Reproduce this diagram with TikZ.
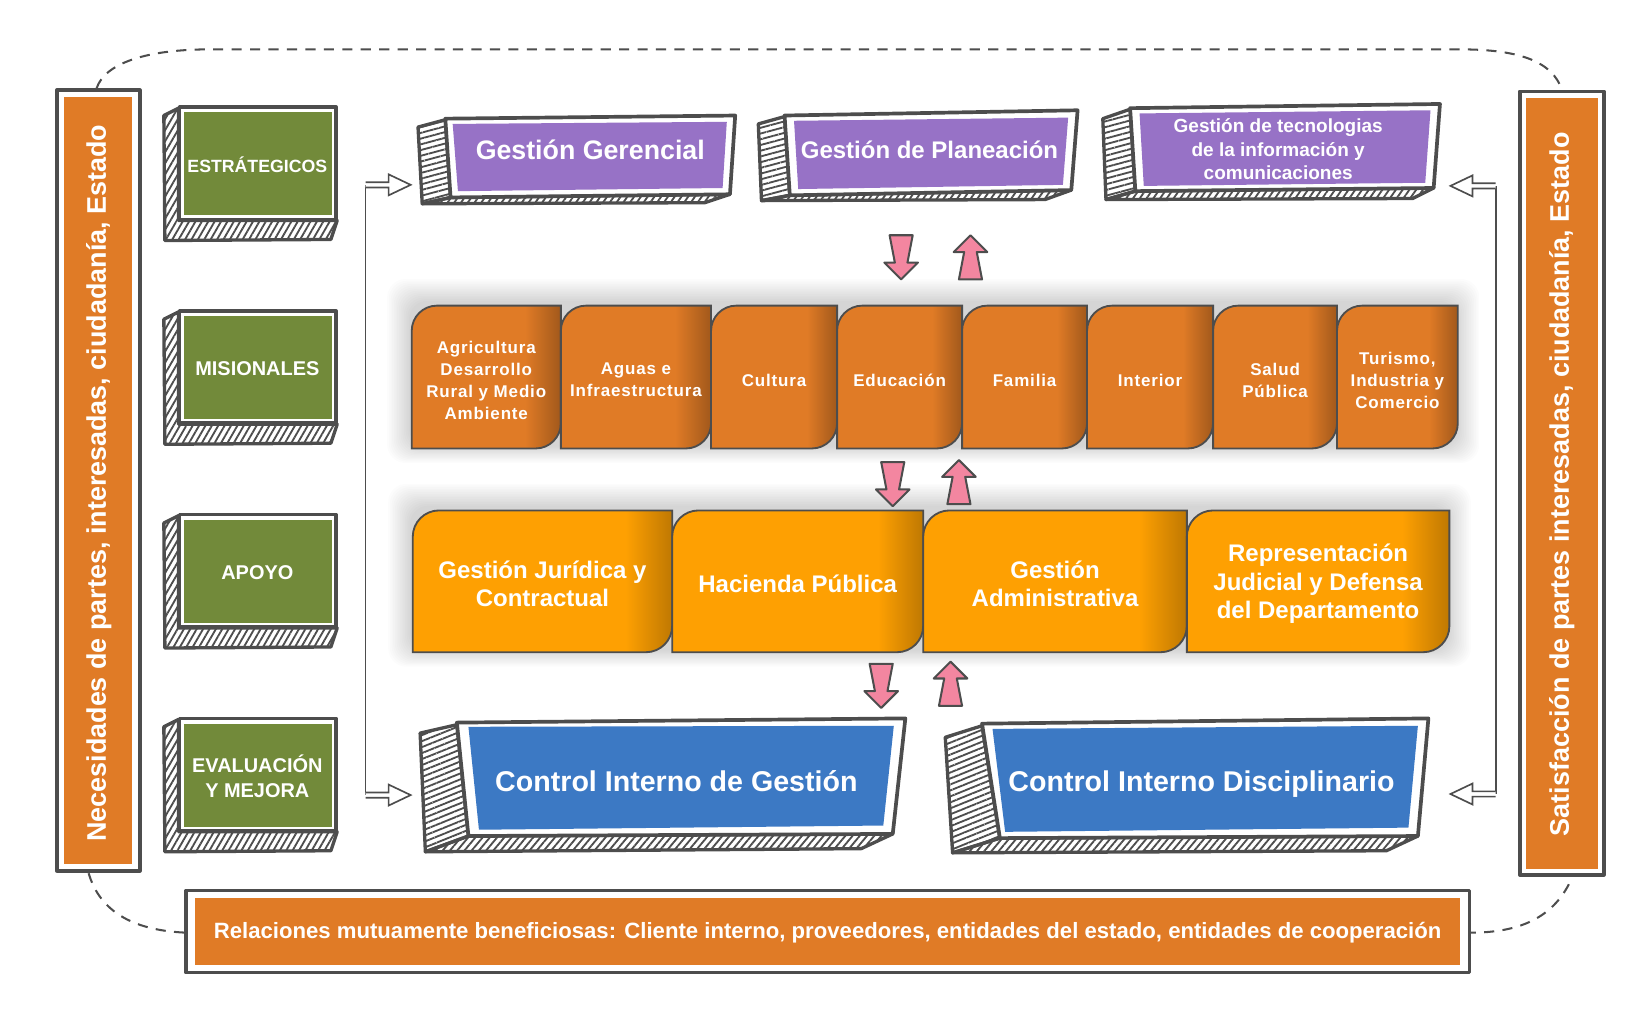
\documentclass[tikz,border=0pt]{standalone}
\usepackage{fontspec}
\setmainfont{Liberation Sans}
\newfontfamily\tabfont[LetterSpace=5]{Liberation Sans}
\usetikzlibrary{patterns.meta}

\definecolor{dk}{RGB}{77,77,77}
\definecolor{grn}{RGB}{114,138,58}
\definecolor{prp}{RGB}{151,114,198}
\definecolor{org}{RGB}{224,123,38}
\definecolor{amb}{RGB}{254,160,2}
\definecolor{blu}{RGB}{60,121,196}
\definecolor{pnk}{RGB}{243,134,160}
\colorlet{orgdk}{org!72!black}
\colorlet{ambdk}{amb!75!black}

\pgfdeclarehorizontalshading{orgtab}{100bp}{color(0bp)=(org); color(25bp)=(org); color(63bp)=(org); color(75bp)=(orgdk); color(100bp)=(orgdk)}
\pgfdeclarehorizontalshading{ambtab}{100bp}{color(0bp)=(amb); color(25bp)=(amb); color(66bp)=(amb); color(75bp)=(ambdk); color(100bp)=(ambdk)}

\tikzset{
  frame/.style={draw=dk, line width=2pt, line join=round, fill=white},
  hatchbox/.style={draw=dk, line width=1.8pt, line join=round,
    pattern={Lines[angle=#1,distance=3pt,line width=1pt]}, pattern color=dk},
  tab/.style={shade, shading=#1, draw=dk, line width=1pt},
  link/.style={draw=dk, line width=1pt},
  sidetxt/.style={text=white, font=\bfseries\fontsize{14.6}{17}\selectfont, rotate=90},
  grntxt/.style={text=white, align=center},
  prptxt/.style={text=white, align=center},
  tabtxt/.style={text=white, align=center, font=\tabfont\bfseries\fontsize{9.2}{11.9}\selectfont},
  ambtxt/.style={text=white, align=center, font=\bfseries\fontsize{13}{15.4}\selectfont},
  blutxt/.style={text=white, font=\bfseries\fontsize{15.5}{18}\selectfont},
  reltxt/.style={text=white, font=\bfseries\fontsize{12}{14}\selectfont},
  pics/pinkarrow/.style={code={
    \draw[draw=dk, fill=pnk, line width=1.1pt, line join=round]
      (-11,0) -- (11,0) -- (6,26) -- (16,26) -- (0,42) -- (-16,26) -- (-6,26) -- cycle;}},
  pics/fatarrow/.style={code={
    \draw[draw=dk, fill=white, line width=0.9pt]
      (0,-2.5) -- (22,-2.5) -- (22,-10) -- (43,0) -- (22,10) -- (22,2.5) -- (0,2.5);}}
}

\begin{document}
\begin{tikzpicture}[x=0.02cm, y=-0.02cm]
\useasboundingbox (0,0) rectangle (1571,976);

% dashed surround
\draw[dk, line width=1.1pt, dash pattern=on 5.5pt off 4.5pt]
  (92,84) .. controls (100,60) and (140,47) .. (200,47) -- (1390,47)
  .. controls (1450,47) and (1478,60) .. (1487,85) -- (1497,835)
  .. controls (1480,875) and (1445,888) .. (1400,888) -- (177,888)
  .. controls (130,886) and (95,870) .. (84,830) -- cycle;

% side bars and banner
\path[frame] (54,86) rectangle (133,829);
\fill[org] (61,92) rectangle (126,823);
\node[sidetxt] (nec) at (94,460) {Necesidades de partes, interesadas, ciudadanía, Estado};
\path[frame] (1447,87) rectangle (1527,833);
\fill[org] (1453,93) rectangle (1521,827);
\node[sidetxt] (sat) at (1487,461) {Satisfacción de partes interesadas, ciudadanía, Estado};
\path[frame] (177,848) rectangle (1399,926);
\fill[org] (186,855) rectangle (1390,919);
\node[reltxt] (rel) at (788,888) {Relaciones mutuamente beneficiosas: Cliente interno, proveedores, entidades del estado, entidades de cooperación};

% process types
\foreach \ty/\nm/\fsz/\txt in {101/est/9.6/ESTRÁTEGICOS, 295/mis/10.8/MISIONALES, 489/apo/10.8/APOYO, 683/eva/10.8/{EVALUACIÓN\\Y MEJORA}}
{
  \path[hatchbox=60] (170,\ty+2) -- (156,\ty+9) -- (157,\ty+128) -- (315,\ty+127) -- (321,\ty+109) -- (170,\ty+109) -- cycle;
  \path[frame] (171,\ty+1) rectangle (320,\ty+108);
  \fill[grn] (175,\ty+6) rectangle (316,\ty+104);
  \node[grntxt, font=\bfseries\fontsize{\fsz}{13.6}\selectfont] (\nm) at (245,\ty+56) {\txt};
}

% strategic
\path[hatchbox=15] (424,114) -- (398,121) -- (402,194) -- (429,188) -- cycle;
\path[hatchbox=55] (402,194) -- (671,193) -- (695,185) -- (429,188) -- cycle;
\path[frame] (424,113) -- (700,110) -- (695,185) -- (429,188) -- cycle;
\fill[prp] (431,118) -- (692,116) -- (688,179) -- (436,182) -- cycle;
\node[prptxt, font=\bfseries\fontsize{14.5}{17}\selectfont] (gg) at (562,143) {Gestión Gerencial};

\path[hatchbox=15] (747,111) -- (722,118) -- (725,191) -- (752,186) -- cycle;
\path[hatchbox=55] (725,191) -- (995,190) -- (1020,181) -- (752,186) -- cycle;
\path[frame] (747,110) -- (1026,105) -- (1020,181) -- (752,186) -- cycle;
\fill[prp] (756,115) -- (1017,112) -- (1012,176) -- (760,180) -- cycle;
\node[prptxt, font=\bfseries\fontsize{13}{16}\selectfont] (gp) at (885,143) {Gestión de Planeación};

\path[hatchbox=15] (1076,104) -- (1050,113) -- (1053,190) -- (1081,182) -- cycle;
\path[hatchbox=55] (1053,190) -- (1345,189) -- (1365,179) -- (1081,182) -- cycle;
\path[frame] (1076,103) -- (1371,99) -- (1365,179) -- (1081,182) -- cycle;
\fill[prp] (1085,108) -- (1362,105) -- (1357,174) -- (1089,177) -- cycle;
\node[prptxt, font=\bfseries\fontsize{10.3}{12.5}\selectfont] (gt) at (1217,142) {Gestión de tecnologias\\de la información y\\comunicaciones};

% soft shadows of the two rows
\foreach \k in {1,...,14}
{
  \fill[black, opacity=0.012, rounded corners=10pt] (391-1.6*\k, 288-1.6*\k) rectangle (1386+1.6*\k, 424+1.2*\k);
  \fill[black, opacity=0.012, rounded corners=10pt] (392-1.6*\k, 483-1.6*\k) rectangle (1378+1.6*\k, 618+1.2*\k);
}

% missional
\foreach \xa/\xb/\nm/\txt in {392/534/agr/{Agricultura\\Desarrollo\\Rural y Medio\\Ambiente}, 534/677/agu/{Aguas e\\Infraestructura}, 677/797/cul/Cultura, 797/916/edu/Educación, 916/1035/fam/Familia, 1035/1155/int/Interior, 1155/1273/sal/{Salud\\Pública}, 1273/1388/tur/{Turismo,\\Industria y\\Comercio}}
{
  \path[tab=orgtab] (\xa,427) -- (\xa,315) arc[start angle=180, end angle=270, radius=24] -- (\xb,291) -- (\xb,403) arc[start angle=0, end angle=90, radius=24] -- cycle;
  \node[tabtxt] (\nm) at ({(\xa+\xb)/2},362) {\txt};
}

% support
\foreach \xa/\xb/\nm/\txt in {393/640/jur/{Gestión Jurídica y\\Contractual}, 640/879/hac/{Hacienda Pública}, 879/1130/adm/{Gestión\\Administrativa}, 1130/1380/rep/{Representación\\Judicial y Defensa\\del Departamento}}
{
  \path[tab=ambtab] (\xa,621) -- (\xa,511) arc[start angle=180, end angle=270, radius=25] -- (\xb,486) -- (\xb,596) arc[start angle=0, end angle=90, radius=25] -- cycle;
  \node[ambtxt] (\nm) at ({(\xa+\xb)/2},556) {\txt};
}

% flows between levels
\pic at (858,224) {pinkarrow};
\pic[rotate=180] at (924,266) {pinkarrow};
\pic at (850,440) {pinkarrow};
\pic[rotate=180] at (913,480) {pinkarrow};
\pic at (839,632) {pinkarrow};
\pic[rotate=180] at (905,672) {pinkarrow};

% control
\path[hatchbox=22] (435,690) -- (400,698) -- (405,811) -- (446,796) -- cycle;
\path[hatchbox=50] (405,811) -- (820,808) -- (850,794) -- (446,796) -- cycle;
\path[frame] (435,688) -- (862,684) -- (850,794) -- (446,796) -- cycle;
\fill[blu] (446,692) -- (851,691) -- (841,786) -- (456,790) -- cycle;
\node[blutxt] (cig) at (644,744) {Control Interno de Gestión};

\path[hatchbox=22] (935,691) -- (900,702) -- (907,812) -- (952,798) -- cycle;
\path[hatchbox=50] (907,812) -- (1320,810) -- (1350,796) -- (952,798) -- cycle;
\path[frame] (935,689) -- (1360,684) -- (1350,796) -- (952,798) -- cycle;
\fill[blu] (945,694) -- (1350,691) -- (1341,788) -- (957,792) -- cycle;
\node[blutxt] (cid) at (1144,747) {Control Interno Disciplinario};

% side connectors
\coordinate (lt) at (348,176);
\coordinate (lb) at (348,757);
\coordinate (rt) at (1424,177);
\coordinate (rb) at (1424,756);
\draw[link] (lt) -- (lb);
\draw[link] (rt) -- (rb);
\pic at (lt) {fatarrow};
\pic at (lb) {fatarrow};
\pic[rotate=180] at (rt) {fatarrow};
\pic[rotate=180] at (rb) {fatarrow};
\end{tikzpicture}
\end{document}
